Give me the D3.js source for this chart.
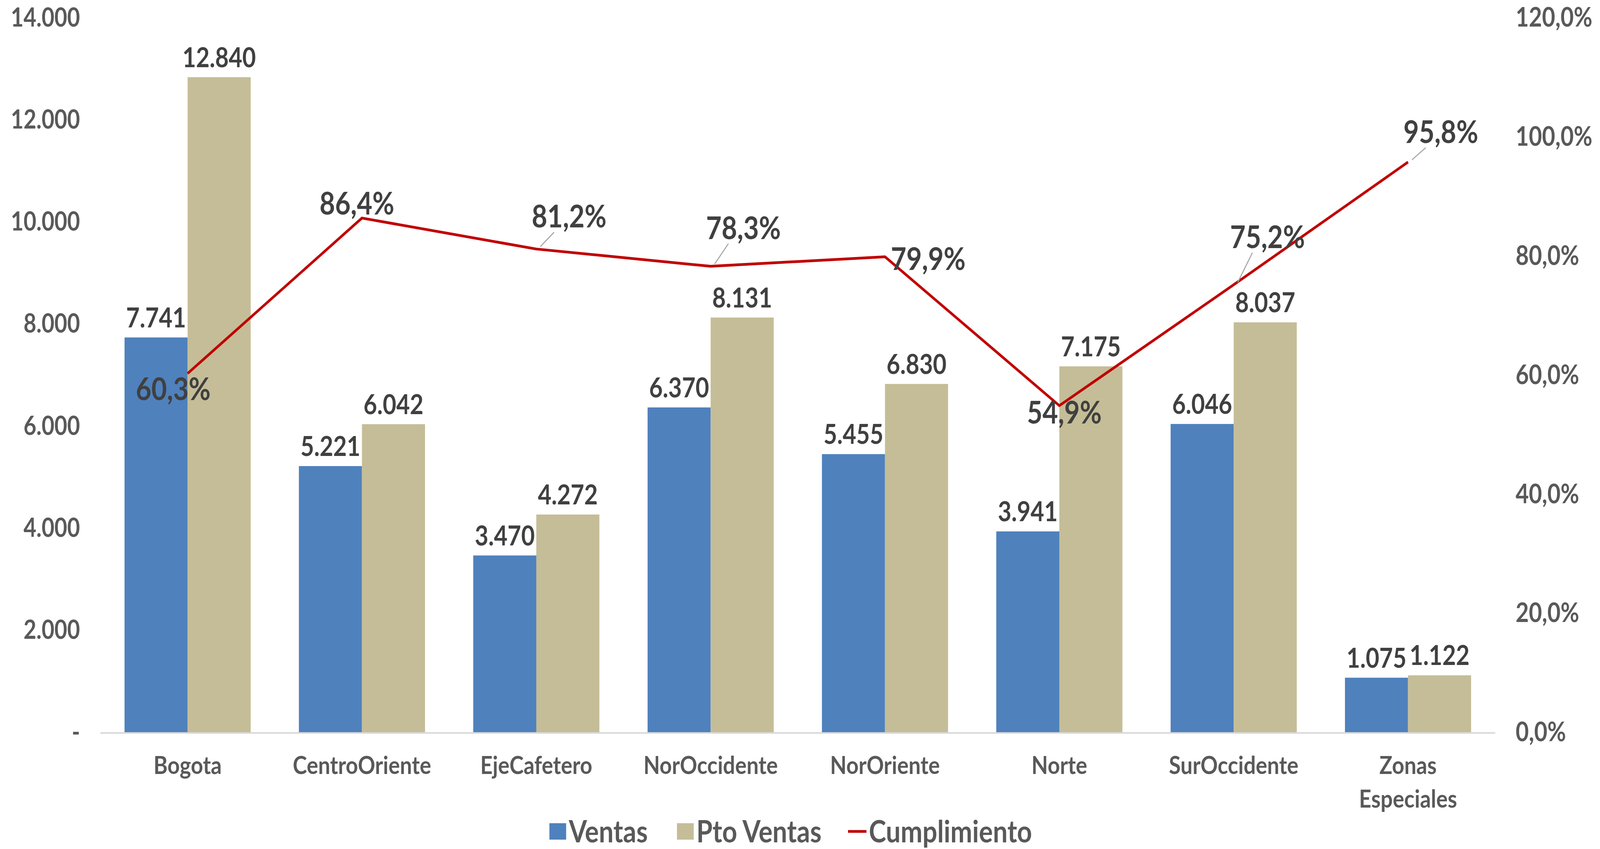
<!DOCTYPE html>
<html>
<head>
<meta charset="utf-8">
<script src="https://cdn.jsdelivr.net/npm/d3@7"></script>
<style>
  html, body { margin: 0; padding: 0; background: #fff; overflow: hidden; }
  svg { display: block; width: 100vw; height: 100vh; }
  text { font-family: Lato, "Open Sans", sans-serif; font-weight: bold; }
</style>
</head>
<body>
<svg id="chart" viewBox="0 0 4779 2173" preserveAspectRatio="none"></svg>
<script>
'use strict';

var categories = ['Bogota', 'CentroOriente', 'EjeCafetero', 'NorOccidente', 'NorOriente', 'Norte', 'SurOccidente', 'Zonas Especiales'];
var ventas = [7741, 5221, 3470, 6370, 5455, 3941, 6046, 1075];
var ptoVentas = [12840, 6042, 4272, 8131, 6830, 7175, 8037, 1122];
var cumplimiento = [0.603, 0.864, 0.812, 0.783, 0.799, 0.549, 0.752, 0.958];
var leftTicks = [0, 2000, 4000, 6000, 8000, 10000, 12000, 14000];
var rightTicks = [0, 0.2, 0.4, 0.6, 0.8, 1.0, 1.2];
var seriesNames = ['Ventas', 'Pto Ventas', 'Cumplimiento'];

// where each line label sits relative to its point (dx, dy)
var lineLabelOffset = [[-43, 40], [-15, -37], [98, -83], [98, -98], [129, 6], [15, 18], [101, -122], [98, -77]];

var colors = { ventas: '#4F81BD', pto: '#C4BD97', line: '#C00000', axis: '#595959', label: '#404040' };

var locale = d3.formatLocale({ decimal: ',', thousands: '.', grouping: [3], currency: ['$', ''] });
var fmtNum = locale.format(',.0f');
var fmtPct = locale.format('.1%');

var margin = { left: 300, right: 4466, top: 46, bottom: 1875 };

var svg = d3.select('#chart');

var x = d3.scaleBand()
  .domain(categories)
  .range([margin.left, margin.right])
  .padding(0);

var groupGap = 144;
var xs = d3.scaleBand()
  .domain(['v', 'p'])
  .range([groupGap / 2, x.bandwidth() - groupGap / 2]);

var y = d3.scaleLinear().domain([0, 14000]).range([margin.bottom, margin.top]);
var y2 = d3.scaleLinear().domain([0, 1.2]).range([margin.bottom, margin.top]);

function translate(a, b) {
  return 'translate(' + a + ', ' + b + ')';
}

// left axis
var leftAxis = svg.append('g')
  .attr('transform', translate(margin.left, 0))
  .call(d3.axisLeft(y).tickValues(leftTicks).tickSize(0).tickPadding(61)
    .tickFormat(function (d) { return d === 0 ? '-' : fmtNum(d); }));
leftAxis.select('.domain').remove();
leftAxis.selectAll('text')
  .attr('fill', colors.axis)
  .style('font-size', '66px');

// right axis
var rightAxis = svg.append('g')
  .attr('transform', translate(margin.right, 0))
  .call(d3.axisRight(y2).tickValues(rightTicks).tickSize(0).tickPadding(61)
    .tickFormat(fmtPct));
rightAxis.select('.domain').remove();
rightAxis.selectAll('text')
  .attr('fill', colors.axis)
  .style('font-size', '68px');

// bars
var groups = svg.append('g').selectAll('g')
  .data(categories)
  .enter()
  .append('g')
  .attr('transform', function (d) { return translate(x(d), 0); });

groups.append('rect')
  .attr('x', xs('v'))
  .attr('width', xs.bandwidth())
  .attr('y', function (d, i) { return y(ventas[i]); })
  .attr('height', function (d, i) { return y(0) - y(ventas[i]); })
  .attr('fill', colors.ventas);

groups.append('rect')
  .attr('x', xs('p'))
  .attr('width', xs.bandwidth())
  .attr('y', function (d, i) { return y(ptoVentas[i]); })
  .attr('height', function (d, i) { return y(0) - y(ptoVentas[i]); })
  .attr('fill', colors.pto);

groups.append('text')
  .attr('x', xs('v') + xs.bandwidth() / 2)
  .attr('y', function (d, i) { return y(ventas[i]) - 26; })
  .attr('text-anchor', 'middle')
  .attr('fill', colors.label)
  .style('font-size', '70px')
  .text(function (d, i) { return fmtNum(ventas[i]); });

groups.append('text')
  .attr('x', xs('p') + xs.bandwidth() / 2)
  .attr('y', function (d, i) { return y(ptoVentas[i]) - 26; })
  .attr('text-anchor', 'middle')
  .attr('fill', colors.label)
  .style('font-size', '70px')
  .text(function (d, i) { return fmtNum(ptoVentas[i]); });

// x axis line
svg.append('line')
  .attr('x1', margin.left)
  .attr('x2', margin.right)
  .attr('y1', y(0) + 1)
  .attr('y2', y(0) + 1)
  .attr('stroke', '#D9D9D9')
  .attr('stroke-width', 4);

// category labels
var catText = svg.append('g').selectAll('text')
  .data(categories)
  .enter()
  .append('text')
  .attr('x', function (d) { return x(d) + x.bandwidth() / 2; })
  .attr('y', 1981)
  .attr('text-anchor', 'middle')
  .attr('fill', colors.axis)
  .style('font-size', '64px');

catText.each(function (d) {
  var words = d === 'Zonas Especiales' ? d.split(' ') : [d];
  var t = d3.select(this);
  words.forEach(function (w, k) {
    t.append('tspan')
      .attr('x', x(d) + x.bandwidth() / 2)
      .attr('dy', k === 0 ? 0 : 86)
      .text(w);
  });
});

// line
var cx = function (i) { return x(categories[i]) + x.bandwidth() / 2; };
var line = d3.line()
  .x(function (d, i) { return cx(i); })
  .y(function (d) { return y2(d); });

svg.append('path')
  .datum(cumplimiento)
  .attr('d', line)
  .attr('fill', 'none')
  .attr('stroke', colors.line)
  .attr('stroke-width', 7)
  .attr('stroke-linejoin', 'round');

// leader lines for labels moved away from their points
var leaderIdx = d3.range(cumplimiento.length).filter(function (i) {
  return lineLabelOffset[i][1] < -60;
});

svg.append('g').selectAll('line')
  .data(leaderIdx)
  .enter()
  .append('line')
  .attr('x1', function (i) { return cx(i) + 12; })
  .attr('y1', function (i) { return y2(cumplimiento[i]) - 6; })
  .attr('x2', function (i) { return cx(i) + lineLabelOffset[i][0] - 45; })
  .attr('y2', function (i) { return y2(cumplimiento[i]) + lineLabelOffset[i][1] + 40; })
  .attr('stroke', '#A6A6A6')
  .attr('stroke-width', 3);

svg.append('g').selectAll('text')
  .data(cumplimiento)
  .enter()
  .append('text')
  .attr('x', function (d, i) { return cx(i) + lineLabelOffset[i][0]; })
  .attr('y', function (d, i) { return y2(d) + lineLabelOffset[i][1]; })
  .attr('dy', '0.35em')
  .attr('text-anchor', 'middle')
  .attr('fill', colors.label)
  .style('font-size', '80px')
  .text(function (d) { return fmtPct(d); });

// legend
var legend = svg.append('g').attr('transform', translate(0, 2128));
var legendItems = [
  { name: seriesNames[0], x: 1641, type: 'rect', color: colors.ventas },
  { name: seriesNames[1], x: 2022, type: 'rect', color: colors.pto },
  { name: seriesNames[2], x: 2533, type: 'line', color: colors.line }
];

legendItems.forEach(function (it) {
  if (it.type === 'rect') {
    legend.append('rect')
      .attr('x', it.x).attr('y', -21)
      .attr('width', 50).attr('height', 42)
      .attr('fill', it.color);
  } else {
    legend.append('line')
      .attr('x1', it.x).attr('x2', it.x + 55)
      .attr('y1', 0).attr('y2', 0)
      .attr('stroke', it.color)
      .attr('stroke-width', 7);
  }
  legend.append('text')
    .attr('x', it.x + (it.type === 'rect' ? 58 : 62))
    .attr('y', 0)
    .attr('dy', '0.36em')
    .attr('fill', colors.axis)
    .style('font-size', '78px')
    .text(it.name);
});
</script>
</body>
</html>
